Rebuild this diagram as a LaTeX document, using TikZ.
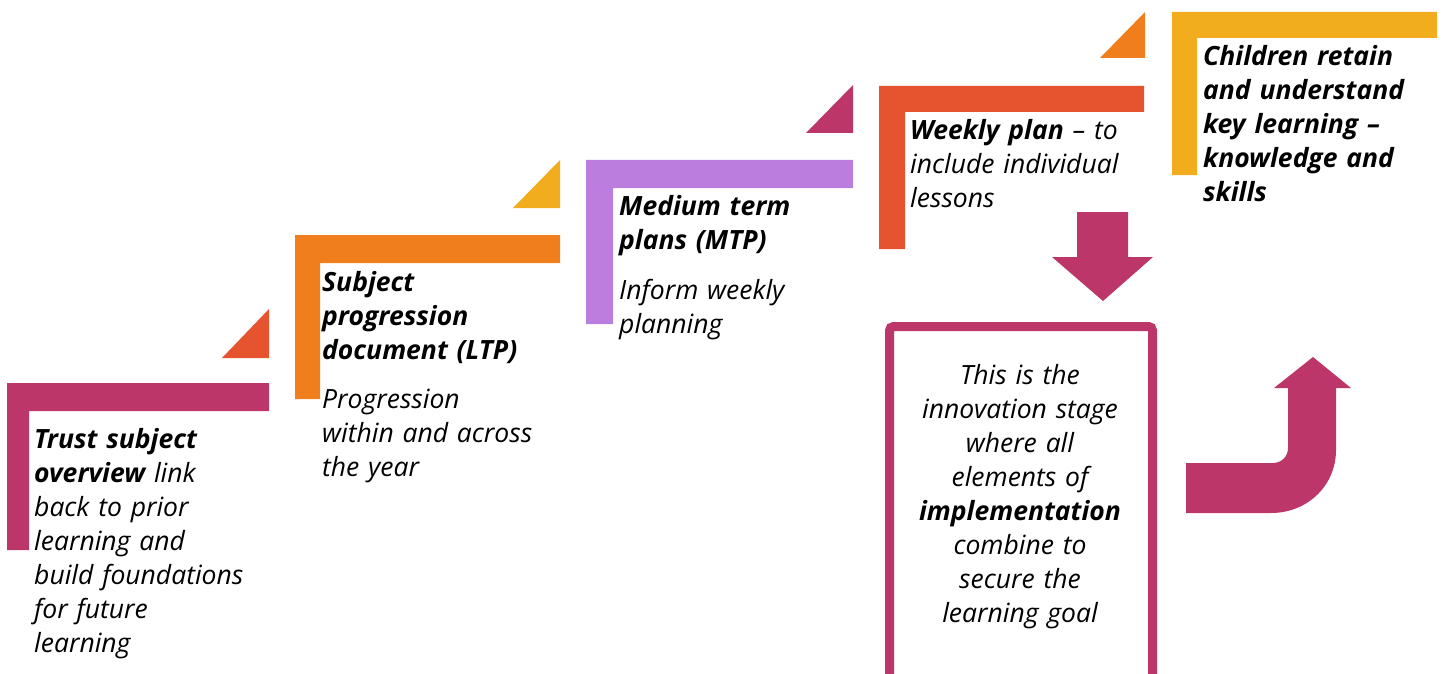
\documentclass[tikz,border=0pt]{standalone}
\usepackage{fontspec}
\setmainfont{Open Sans}
\definecolor{cMag}{HTML}{BC3669}
\definecolor{cRed}{HTML}{E5532F}
\definecolor{cOra}{HTML}{F07E1C}
\definecolor{cYel}{HTML}{F1AD1E}
\definecolor{cLil}{HTML}{BB7EDF}
\tikzset{
  txt/.style={inner sep=0pt, anchor=base west, align=left, text width=#1,
     font=\fontsize{26.5}{34}\selectfont\itshape},
  ctxt/.style={inner sep=0pt, anchor=base, align=center, text width=#1,
     font=\fontsize{26.5}{34}\selectfont\itshape},
}
\begin{document}
\begin{tikzpicture}[x=1pt,y=-1pt]
\useasboundingbox (0,0) rectangle (1443,674);
\clip (0,0) rectangle (1443,674);
% step 1
\fill[cMag] (7,383) -- (269,383) -- (269,411) -- (29,411) -- (29,550) -- (7,550) -- cycle;
\fill[cRed] (222,358) -- (269,358) -- (269,309) -- cycle;
% step 2
\fill[cOra] (295,235) -- (560,235) -- (560,263) -- (320,263) -- (320,399) -- (295,399) -- cycle;
\fill[cYel] (513,208) -- (560,208) -- (560,160) -- cycle;
% step 3
\fill[cLil] (586,160) -- (853,160) -- (853,188) -- (613,188) -- (613,324) -- (586,324) -- cycle;
\fill[cMag] (806,133) -- (853,133) -- (853,85) -- cycle;
% step 4
\fill[cRed] (879,86) -- (1144,86) -- (1144,112) -- (905,112) -- (905,249) -- (879,249) -- cycle;
\fill[cOra] (1100,58) -- (1145,58) -- (1145,12) -- cycle;
% step 5
\fill[cYel] (1172,12) -- (1437,12) -- (1437,38) -- (1197,38) -- (1197,175) -- (1172,175) -- cycle;
% down arrow
\coordinate (dtip) at (1103,301);
\fill[cMag] (1077,212) -- (1128,212) -- (1128,257) -- (1153,257) -- (dtip) -- (1052,257) -- (1077,257) -- cycle;
% box
\draw[cMag, line width=9pt, rounded corners=4pt] (889.5,720) -- (889.5,326.5) -- (1152.5,326.5) -- (1152.5,720);
% bent arrow
\coordinate (utip) at (1313,357);
\fill[cMag] (1186,463) -- (1273,463) .. controls (1281.3,463) and (1288,456.7) .. (1288,448)
  -- (1288,388) -- (1274,388) -- (utip) -- (1351,388) -- (1336,388) -- (1336,450)
  .. controls (1336,486) and (1307,513) .. (1271,513) -- (1186,513) -- cycle;
% texts
\node[txt=260pt] (t1) at (34,448) {\textbf{Trust subject}\\\textbf{overview} link\\back to prior\\learning and\\build foundations\\for future\\learning};
\node[txt=260pt] (t2a) at (322,291) {\textbf{Subject}\\\textbf{progression}\\\textbf{document (LTP)}};
\node[txt=260pt] (t2b) at (322,408) {Progression\\within and across\\the year};
\node[txt=260pt] (t3a) at (619,215) {\textbf{Medium term}\\\textbf{plans (MTP)}};
\node[txt=260pt] (t3b) at (619,299) {Inform weekly\\planning};
\node[txt=260pt] (t4) at (910,140) {\textbf{Weekly plan} -- to\\include individual\\lessons};
\node[txt=260pt] (t5) at (1203,66) {\textbf{Children retain}\\\textbf{and understand}\\\textbf{key learning --}\\\textbf{knowledge and}\\\textbf{skills}};
\node[ctxt=250pt] (tb) at (1020,384) {This is the\\innovation stage\\where all\\elements of\\\textbf{implementation}\\combine to\\secure the\\learning goal};
\end{tikzpicture}
\end{document}
